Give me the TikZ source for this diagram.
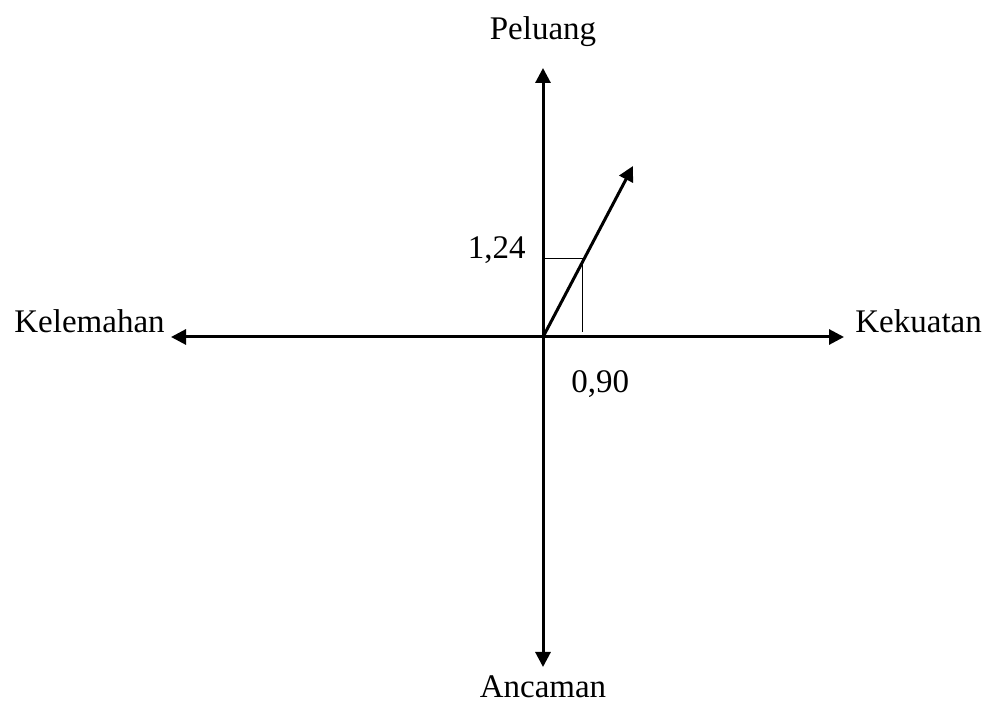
\documentclass[tikz,border=0pt]{standalone}
\usepackage{fontspec}
\setmainfont{Liberation Serif}
\usetikzlibrary{arrows.meta}
\begin{document}
\begin{tikzpicture}[x=0.5pt,y=-0.5pt,
  axis/.style={line width=1.5pt,-{Triangle[length=7.5pt,width=7.5pt]}},
  thin/.style={line width=0.5pt},
  lbl/.style={inner sep=0pt,font=\fontsize{16.5}{19}\selectfont}]
\useasboundingbox (0,0) rectangle (985,704);
\coordinate (O) at (543,337);
\coordinate (top) at (543,68);
\coordinate (bot) at (543,667);
\coordinate (left) at (171,337);
\coordinate (right) at (844,337);
\coordinate (tip) at (633,166);
\coordinate (P) at (582,259);
\coordinate (Py) at (543,259);
\coordinate (Px) at (582,332);
\draw[axis] (O) -- (top);
\draw[axis] (O) -- (bot);
\draw[axis] (O) -- (left);
\draw[axis] (O) -- (right);
\draw[axis] (O) -- (tip);
\draw[thin] (Py) -- (P) -- (Px);
\node[lbl,anchor=base] (peluang) at (543,40) {Peluang};
\node[lbl,anchor=base] (ancaman) at (543,698) {Ancaman};
\node[lbl,anchor=base west] (kelemahan) at (14,333) {Kelemahan};
\node[lbl,anchor=base west] (kekuatan) at (855,333) {Kekuatan};
\node[lbl,anchor=base east] (v124) at (526,259) {1,24};
\node[lbl,anchor=base west] (v090) at (571,393) {0,90};
\end{tikzpicture}
\end{document}
